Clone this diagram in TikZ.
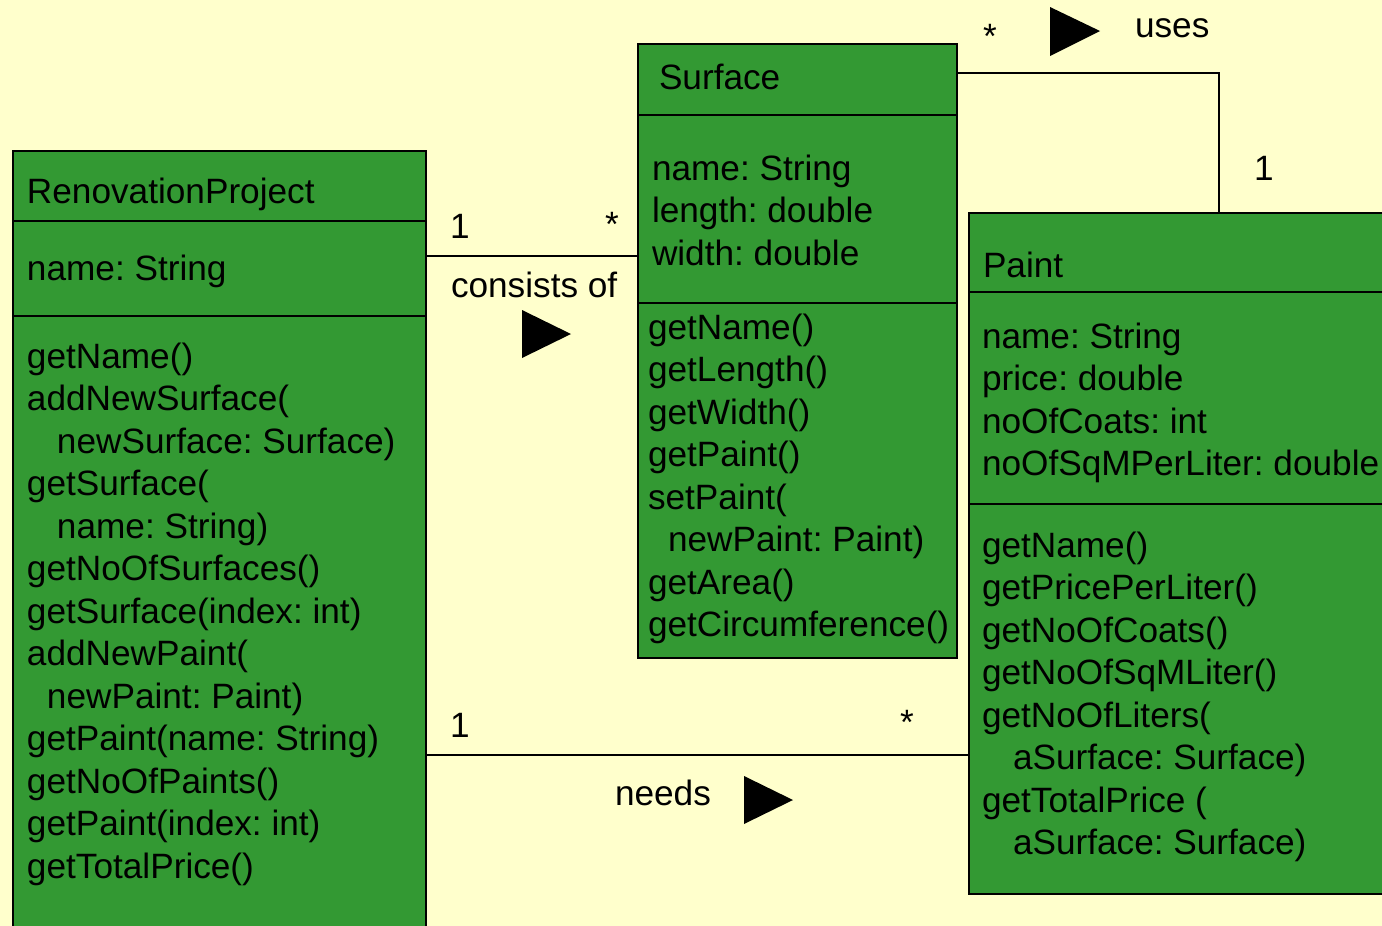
\documentclass[tikz,border=0pt]{standalone}
\usepackage{fontspec}
\setmainfont{Liberation Sans}
\definecolor{bgyellow}{HTML}{FFFFCC}
\definecolor{umlgreen}{HTML}{339933}
\newcommand{\umllines}[1]{\begin{tabular}[t]{@{}l@{}}#1\end{tabular}}
\frenchspacing
\begin{document}
\frenchspacing
\begin{tikzpicture}[x=1pt,y=-1pt,
  every node/.style={font=\fontsize{35.2}{42.5}\selectfont\frenchspacing},
  classbox/.style={draw=black, fill=umlgreen, line width=1.5pt, anchor=north west, inner sep=0pt, outer sep=0pt},
  txt/.style={anchor=base west, inner sep=0pt, outer sep=0pt, text=black},
  conn/.style={line width=1.5pt, draw=black},
  divider/.style={line width=1.5pt, draw=black}]
\clip (0,0) rectangle (1382,926);
\fill[bgyellow] (0,0) rectangle (1382,926);

% RenovationProject
\node[classbox, minimum width=413pt, minimum height=800pt] (rp) at (13,151) {};
\draw[divider] (13,221) -- (426,221);
\draw[divider] (13,316) -- (426,316);
\node[txt] (rpTitle) at (27,203) {RenovationProject};
\node[txt] (rpAttr) at (27,280) {name: String};
\node[txt] (rpOps) at (27,368) {\umllines{getName()\\
addNewSurface(\\
\hspace*{30pt}newSurface: Surface)\\
getSurface(\\
\hspace*{30pt}name: String)\\
getNoOfSurfaces()\\
getSurface(index: int)\\
addNewPaint(\\
\hspace*{20pt}newPaint: Paint)\\
getPaint(name: String)\\
getNoOfPaints()\\
getPaint(index: int)\\
getTotalPrice()}};

% Surface
\node[classbox, minimum width=319pt, minimum height=614pt] (sf) at (638,44) {};
\draw[divider] (638,115) -- (957,115);
\draw[divider] (638,303) -- (957,303);
\node[txt] (sfTitle) at (659,89) {Surface};
\node[txt] (sfAttr) at (652,180) {\umllines{name: String\\length: double\\width: double}};
\node[txt] (sfOps) at (648,339) {\umllines{getName()\\
getLength()\\
getWidth()\\
getPaint()\\
setPaint(\\
\hspace*{20pt}newPaint: Paint)\\
getArea()\\
getCircumference()}};

% Paint
\node[classbox, minimum width=450pt, minimum height=681pt] (pt) at (969,213) {};
\draw[divider] (969,292) -- (1419,292);
\draw[divider] (969,504) -- (1419,504);
\node[txt] (ptTitle) at (983,277) {Paint};
\node[txt] (ptAttr) at (982,348) {\umllines{name: String\\price: double\\noOfCoats: int\\noOfSqMPerLiter: double}};
\node[txt] (ptOps) at (982,557) {\umllines{getName()\\
getPricePerLiter()\\
getNoOfCoats()\\
getNoOfSqMLiter()\\
getNoOfLiters(\\
\hspace*{31pt}aSurface: Surface)\\
getTotalPrice (\\
\hspace*{31pt}aSurface: Surface)}};

% consists of
\coordinate (yc) at (0,256);
\draw[conn] (yc -| rp.east) -- (yc -| sf.west);
\node[txt] (c1) at (450,238) {1};
\node[txt] (cstar) at (605,236) {*};
\node[txt] (clabel) at (451,297) {consists of};
\fill[black] (522,310) -- (571,334) -- (522,358) -- cycle;

% uses
\coordinate (yu) at (1219,73);
\draw[conn] (yu -| sf.east) -- (yu) -- (yu |- pt.north);
\node[txt] (ustar) at (983,48) {*};
\node[txt] (ulabel) at (1135,37) {uses};
\node[txt] (u1) at (1254,180) {1};
\fill[black] (1050,7) -- (1100,31) -- (1050,56) -- cycle;

% needs
\coordinate (yn) at (0,755);
\draw[conn] (yn -| rp.east) -- (yn -| pt.west);
\node[txt] (n1) at (450,737) {1};
\node[txt] (nstar) at (900,734) {*};
\node[txt] (nlabel) at (615,805) {needs};
\fill[black] (744,776) -- (793,800) -- (744,824) -- cycle;
\end{tikzpicture}
\end{document}
